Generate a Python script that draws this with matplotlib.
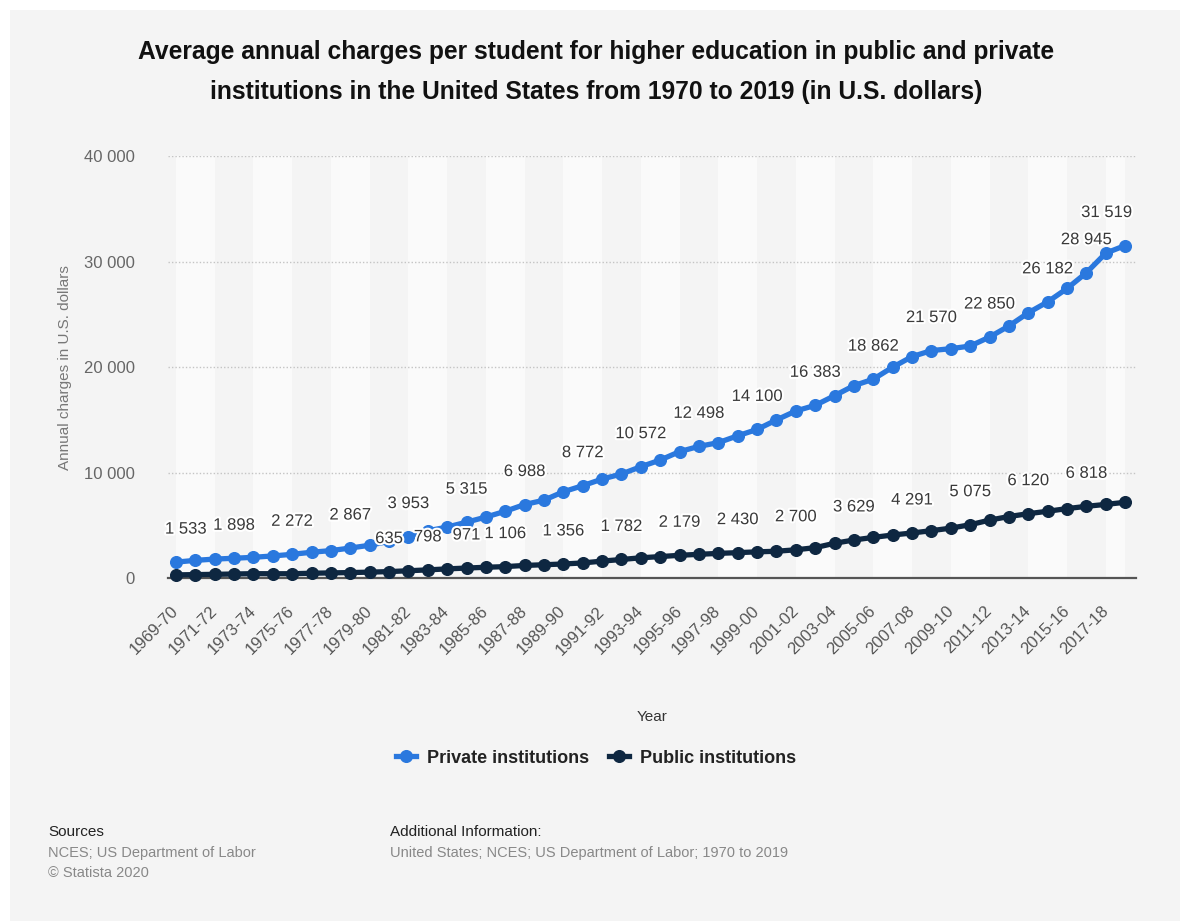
import matplotlib
matplotlib.use("Agg")
import matplotlib.pyplot as plt
import matplotlib.patheffects as pe
from matplotlib.lines import Line2D
from matplotlib.patches import Rectangle

plt.rcParams['font.family'] = ['Liberation Sans', 'DejaVu Sans']

# ---------------- data ----------------
years = [f"{1969 + i}-{(70 + i) % 100:02d}" for i in range(50)]

private = [1533, 1700, 1820, 1898, 1989, 2117, 2272, 2467, 2624, 2867,
           3130, 3498, 3953, 4500, 4851, 5315, 5800, 6350, 6988, 7400,
           8200, 8772, 9400, 9880, 10572, 11200, 12000, 12498, 12850, 13500,
           14100, 15000, 15850, 16383, 17300, 18250, 18862, 20000, 21000, 21570,
           21750, 22000, 22850, 23900, 25150, 26182, 27450, 28945, 30800, 31519]

public = [323, 351, 376, 407, 438, 432, 433, 479, 512, 543,
          583, 635, 714, 798, 891, 971, 1045, 1106, 1218, 1285,
          1356, 1454, 1628, 1782, 1942, 2057, 2179, 2271, 2360, 2430,
          2506, 2562, 2700, 2903, 3319, 3629, 3874, 4102, 4291, 4512,
          4751, 5075, 5511, 5850, 6120, 6351, 6600, 6818, 7000, 7200]

private_label_idx = [0, 3, 6, 9, 12, 15, 18, 21, 24, 27, 30, 33, 36, 39, 42, 45, 47, 49]
public_label_idx = [11, 13, 15, 17, 20, 23, 26, 29, 32, 35, 38, 41, 44, 47]

yticks = [0, 10000, 20000, 30000, 40000]

title = ("Average annual charges per student for higher education in public and private\n"
         "institutions in the United States from 1970 to 2019 (in U.S. dollars)")

C_PRIV = "#2a78de"
C_PUB = "#0e2741"
BG = "#f4f4f4"

W, H = 1180, 921
fig = plt.figure(figsize=(W / 100, H / 100), dpi=100)
fig.patch.set_facecolor("white")
fig.add_artist(Rectangle((10 / W, 0), (W - 10) / W, (H - 10) / H,
                         transform=fig.transFigure, facecolor=BG, edgecolor="none", zorder=0))

ax_l, ax_r, ax_t, ax_b = 168, 1136, 156, 578.3
ax = fig.add_axes([ax_l / W, (H - ax_b) / H, (ax_r - ax_l) / W, (ax_b - ax_t) / H])
ax.set_facecolor(BG)
n = len(years)
ax.set_xlim(-0.41, 49.56)
ax.set_ylim(0, 40000)

# alternating bands
for i in range(0, n, 4):
    ax.axvspan(i, min(i + 2, n - 1), color="#fafafa", zorder=0, lw=0)

# gridlines
for y in yticks[1:]:
    ax.axhline(y, color="#c4c4c4", lw=1, ls=(0, (1, 1.5)), zorder=1)

for s in ["top", "right", "left"]:
    ax.spines[s].set_visible(False)
ax.spines["bottom"].set_color("#555555")
ax.spines["bottom"].set_linewidth(1.6)
ax.spines["bottom"].set_zorder(2)

x = list(range(n))
ax.plot(x, public, color=C_PUB, lw=3.8, marker="o", ms=8.4, zorder=3, clip_on=False)
ax.plot(x, private, color=C_PRIV, lw=3.8, marker="o", ms=8.4, zorder=4, clip_on=False)

def fmt(v):
    return f"{v:,}".replace(",", " ")

halo = [pe.withStroke(linewidth=3, foreground="white")]

def add_labels(vals, idxs):
    for i in idxs:
        ha, dx = "center", 0
        if i == 0:
            ha, dx = "left", -11
        elif i == n - 1:
            ha, dx = "right", 7
        ax.annotate(fmt(vals[i]), (i, vals[i]), xytext=(dx, 33), textcoords="offset pixels",
                    ha=ha, va="center", fontsize=12, color="#3a3a3a",
                    path_effects=halo, zorder=6, annotation_clip=False)

add_labels(private, private_label_idx)
add_labels(public, public_label_idx)

ax.set_yticks(yticks)
ax.set_yticklabels([fmt(v) for v in yticks], fontsize=12, color="#666666")
ax.tick_params(axis="y", length=0, pad=24)
ax.set_xticks(x[::2])
ax.set_xticklabels(years[::2], rotation=45, ha="right", va="center",
                   rotation_mode="anchor", fontsize=12, color="#555555")
ax.tick_params(axis="x", length=0, pad=22)

ax.set_ylabel("Annual charges in U.S. dollars", fontsize=11, color="#777777", labelpad=12)
ax.yaxis.set_label_coords((72 - ax_l) / (ax_r - ax_l), 0.5)
fig.text(652 / W, 1 - 717 / H, "Year", ha="center", va="center", fontsize=11, color="#333333")

fig.text(596 / W, 1 - 72 / H, title, ha="center", va="center", fontsize=17.7,
         fontweight="bold", color="#111111", linespacing=1.8)

# legend
handles = [Line2D([0], [0], color=C_PRIV, lw=3.8, marker="o", ms=8.4),
           Line2D([0], [0], color=C_PUB, lw=3.8, marker="o", ms=8.4)]
leg = fig.legend(handles, ["Private institutions", "Public institutions"],
                 loc="center", bbox_to_anchor=(596 / W, 1 - 758 / H), ncol=2, frameon=False,
                 prop={"size": 13, "weight": "bold"}, handlelength=1.1, handletextpad=0.6,
                 columnspacing=1.1)
for t in leg.get_texts():
    t.set_color("#222222")

# footer
fig.text(48 / W, 1 - 832 / H, "Sources", fontsize=11, color="#222222", va="center")
fig.text(48 / W, 1 - 853 / H, "NCES; US Department of Labor", fontsize=10.5, color="#888888", va="center")
fig.text(48 / W, 1 - 873 / H, "© Statista 2020", fontsize=10.5, color="#888888", va="center")
fig.text(390 / W, 1 - 832 / H, "Additional Information:", fontsize=11, color="#222222", va="center")
fig.text(390 / W, 1 - 853 / H, "United States; NCES; US Department of Labor; 1970 to 2019",
         fontsize=10.5, color="#888888", va="center")

fig.savefig("out.png", dpi=100, facecolor=fig.get_facecolor())
